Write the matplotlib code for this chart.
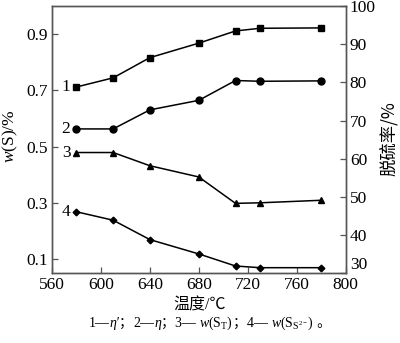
import matplotlib
matplotlib.use("Agg")
import matplotlib.pyplot as plt
from matplotlib.offsetbox import TextArea, HPacker, AnchoredOffsetbox

# Roasting temperature (°C)
temps = [580, 610, 640, 680, 710, 730, 780]
# Desulfurization rates (%), right axis
eta_prime = [78.8, 81.2, 86.5, 90.3, 93.5, 94.2, 94.3]
eta = [67.8, 67.8, 72.8, 75.3, 80.5, 80.3, 80.4]
# Sulfur contents (%), left axis
w_st = [0.479, 0.479, 0.432, 0.392, 0.298, 0.300, 0.309]
w_s2 = [0.268, 0.238, 0.169, 0.118, 0.075, 0.069, 0.069]

x_ticks = [560, 600, 640, 680, 720, 760, 800]
left_ticks = [0.1, 0.3, 0.5, 0.7, 0.9]
right_ticks = [30, 40, 50, 60, 70, 80, 90, 100]

SERIF = ["Liberation Serif", "DejaVu Serif"]
CJK = ["Noto Sans CJK SC", "DejaVu Sans"]
MIXED = ["Liberation Serif", "Noto Sans CJK SC", "DejaVu Sans"]

plt.rcParams["font.family"] = SERIF
plt.rcParams["mathtext.fontset"] = "custom"
plt.rcParams["mathtext.rm"] = "Liberation Serif"
plt.rcParams["mathtext.it"] = "Liberation Serif:italic"

fig = plt.figure(figsize=(4.0, 3.43), dpi=100)
ax = fig.add_axes([0.13, 0.204, 0.734, 0.778])
ax2 = ax.twinx()

spine_col = "#555555"
for a in (ax, ax2):
    for s in a.spines.values():
        s.set_color(spine_col)
        s.set_linewidth(1.0)

line_kw = dict(color="black", lw=1.1)
ax2.plot(temps, eta_prime, marker="s", ms=5, **line_kw)
ax2.plot(temps, eta, marker="o", ms=5, **line_kw)
ax.plot(temps, w_st, marker="^", ms=5, **line_kw)
ax.plot(temps, w_s2, marker="D", ms=3.4, **line_kw)

ax.set_xlim(560, 800)
ax.set_ylim(0.05, 1.0)
ax2.set_ylim(30.6, 99.7)

ax.set_xticks(x_ticks)
ax.set_yticks(left_ticks)
ax.set_yticklabels([f"{v:.1f}" for v in left_ticks])
ax2.set_yticks(right_ticks)

ax.tick_params(axis="both", direction="in", length=4, width=0.9,
               color=spine_col, labelsize=12.5, pad=3)
ax.tick_params(axis="y", right=False)
ax2.tick_params(axis="y", direction="in", length=4, width=0.9,
                color=spine_col, labelsize=12.5, pad=3)
# Lift the lowest right-hand label clear of the x tick labels
ax2.yaxis.get_major_ticks()[0].label2.set_va("bottom")

# Curve numbers
for txt, yv in (("1", 0.712), ("2", 0.562), ("3", 0.479), ("4", 0.267)):
    ax.text(571.5, yv, txt, ha="center", va="center", fontsize=12.5,
            family=SERIF)

# Axis titles
fig.text(10 / 400, 1 - 136 / 343, "$w$(S)/%", fontsize=12.5, rotation=90,
         ha="center", va="center")
fig.text(389 / 400, 1 - 139 / 343, "脱硫率/%", fontsize=12.5, family=CJK,
         rotation=90, ha="center", va="center")
fig.text(200 / 400, 1 - 305 / 343, "温度/℃", fontsize=11.5, family=MIXED,
         ha="center", va="center")

# Legend caption below the axes
fs = 10
def piece(s, style="normal", fam=MIXED):
    return TextArea(s, textprops=dict(fontsize=fs, family=fam, style=style))

parts = [
    piece("1—"), piece("η′", "italic"), piece("；", fam=CJK),
    piece("2—"), piece("η", "italic"), piece("；", fam=CJK),
    piece("3— "), piece("$w$(S$_\\mathrm{T}$)", fam=SERIF), piece("；", fam=CJK),
    piece("4— "), piece("$w$(S$_{\\mathrm{S}^{2-}}$)", fam=SERIF),
    piece(" 。", fam=CJK),
]
box = HPacker(children=parts, align="baseline", pad=0, sep=0)
anchored = AnchoredOffsetbox(loc="center", child=box, pad=0, frameon=False,
                             bbox_to_anchor=(0.525, 0.058),
                             bbox_transform=fig.transFigure)
fig.add_artist(anchored)

fig.savefig("out.png", dpi=100)
